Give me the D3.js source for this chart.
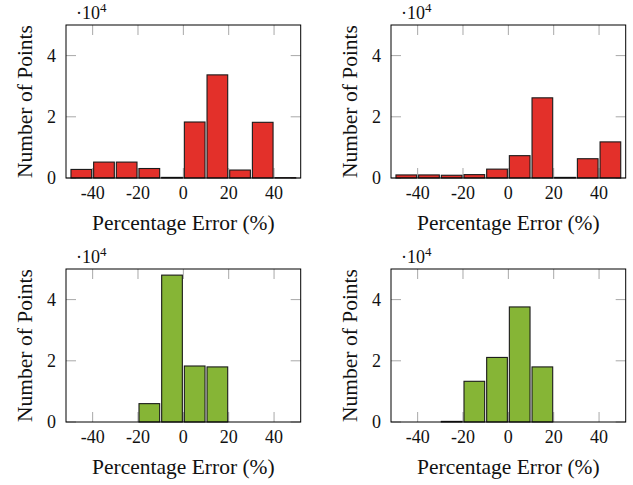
<!DOCTYPE html>
<html>
<head>
<meta charset="utf-8">
<script src="https://cdn.jsdelivr.net/npm/d3@7"></script>
<style>
  body { margin: 0; background: #fff; }
</style>
</head>
<body>
<svg class="chart" width="633" height="485" font-family="'Liberation Serif', 'Times New Roman', Times, serif"></svg>
<script>
// bin starts (each bin is 10 % wide)
var binStarts = [-50, -40, -30, -20, -10, 0, 10, 20, 30, 40];
var xTicks = [-40, -20, 0, 20, 40];
var yTicks = [0, 20000, 40000];
var yTickLabels = ["0", "2", "4"];

// counts per bin
var countsTopLeft = [2800, 5200, 5200, 3100, 200, 18300, 33700, 2600, 18200, 100];
var countsTopRight = [1000, 1000, 900, 1100, 2900, 7300, 26200, 200, 6300, 11800];
var countsBottomLeft = [0, 0, 0, 6000, 48000, 18300, 18000, 0, 0, 0];
var countsBottomRight = [0, 0, 200, 13300, 21100, 37600, 18000, 0, 0, 0];

var red = "#e3302a", green = "#86b536";

var panels = [
  {counts: countsTopLeft, color: red, left: 66, top: 25},
  {counts: countsTopRight, color: red, left: 391, top: 25},
  {counts: countsBottomLeft, color: green, left: 66, top: 269},
  {counts: countsBottomRight, color: green, left: 391, top: 269}
];

var width = 234.7, height = 153, tickLen = 10;
var svg = d3.select(".chart");

panels.forEach(function(p) {
  var g = svg.append("g")
    .attr("transform", "translate(" + p.left + "," + p.top + ")");

  var x = d3.scaleLinear().domain([-51.75, 51.75]).range([0, width]);
  var y = d3.scaleLinear().domain([0, 50000]).range([height, 0]);

  // ticks on all four sides, drawn under the bars
  var ticks = g.append("g").attr("stroke", "#a8a8a8").attr("stroke-width", 1);
  xTicks.forEach(function(t) {
    ticks.append("line").attr("x1", x(t)).attr("x2", x(t)).attr("y1", 0).attr("y2", tickLen);
    ticks.append("line").attr("x1", x(t)).attr("x2", x(t)).attr("y1", height).attr("y2", height - tickLen);
  });
  yTicks.forEach(function(t) {
    ticks.append("line").attr("x1", 0).attr("x2", tickLen).attr("y1", y(t)).attr("y2", y(t));
    ticks.append("line").attr("x1", width).attr("x2", width - tickLen).attr("y1", y(t)).attr("y2", y(t));
  });

  // bars
  g.selectAll("rect.bar")
    .data(p.counts)
    .enter().append("rect")
    .attr("class", "bar")
    .attr("x", function(d, i) { return x(binStarts[i]) + 1; })
    .attr("width", function(d, i) { return x(binStarts[i] + 10) - x(binStarts[i]) - 2; })
    .attr("y", function(d) { return y(d); })
    .attr("height", function(d) { return y(0) - y(d); })
    .attr("fill", p.color)
    .attr("stroke", "#1a1a1a")
    .attr("stroke-width", 1.1);

  // frame
  g.append("rect")
    .attr("width", width)
    .attr("height", height)
    .attr("fill", "none")
    .attr("stroke", "#000")
    .attr("stroke-width", 1);

  // tick labels
  g.selectAll("text.xt")
    .data(xTicks)
    .enter().append("text")
    .attr("class", "xt")
    .attr("x", function(d) { return x(d); })
    .attr("y", height + 21)
    .attr("text-anchor", "middle")
    .attr("font-size", 18)
    .attr("fill", "#111")
    .text(function(d) { return d; });

  g.selectAll("text.yt")
    .data(yTicks)
    .enter().append("text")
    .attr("class", "yt")
    .attr("x", -10)
    .attr("y", function(d) { return y(d); })
    .attr("dy", "0.35em")
    .attr("text-anchor", "end")
    .attr("font-size", 18)
    .attr("fill", "#111")
    .text(function(d, i) { return yTickLabels[i]; });

  // scale marker
  var sc = g.append("text")
    .attr("x", 10)
    .attr("y", -6)
    .attr("font-size", 18)
    .attr("fill", "#111");
  sc.append("tspan").text("\u00b710");
  sc.append("tspan").attr("dy", -7).attr("font-size", 13).text("4");

  // axis labels
  g.append("text")
    .attr("x", width / 2)
    .attr("y", height + 52)
    .attr("text-anchor", "middle")
    .attr("font-size", 21.5)
    .attr("fill", "#111")
    .text("Percentage Error (%)");

  g.append("text")
    .attr("transform", "translate(-34," + (height / 2) + ") rotate(-90)")
    .attr("text-anchor", "middle")
    .attr("font-size", 21.5)
    .attr("fill", "#111")
    .text("Number of Points");
});
</script>
</body>
</html>
